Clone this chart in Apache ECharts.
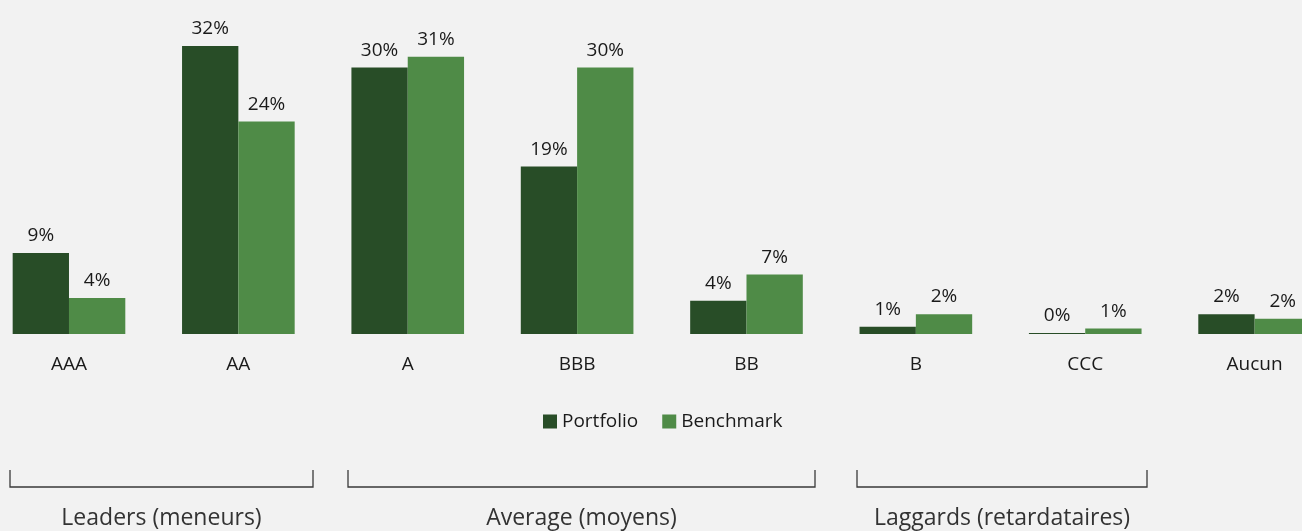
<!DOCTYPE html>
<html>
<head>
<meta charset="utf-8">
<script src="https://cdn.jsdelivr.net/npm/echarts@6/dist/echarts.min.js"></script>
<style>
html,body{margin:0;padding:0;background:#f2f2f2;overflow:hidden;}
/* le graphique déborde un peu à gauche et à droite */
#chart{width:1371px;height:531px;margin-left:-16px;}
</style>
</head>
<body>
<div id="chart"></div>
<script>
// notations ESG
const categories = ['AAA', 'AA', 'A', 'BBB', 'BB', 'B', 'CCC', 'Aucun']
const portfolio = [9.0, 32.0, 29.6, 18.6, 3.7, 0.8, 0.1, 2.2]
const benchmark = [4.0, 23.6, 30.8, 29.6, 6.6, 2.2, 0.6, 1.7]
const groups = [
    {name: 'Leaders (meneurs)', x1: 10, x2: 313},
    {name: 'Average (moyens)', x1: 348, x2: 815},
    {name: 'Laggards (retardataires)', x1: 857, x2: 1147}
]

const font = '"Open Sans", "Noto Sans", sans-serif'
const dark = '#284d27'
const light = '#4f8b47'
const off = 16 // décalage du div

// crochets sous le graphique
let graphics = []
groups.forEach(function(g){
    graphics.push({
        type: 'polyline',
        shape: {points: [[g.x1 + off, 470], [g.x1 + off, 487], [g.x2 + off, 487], [g.x2 + off, 470]]},
        style: {stroke: '#3a3a3a', lineWidth: 1.3, fill: null}
    })
    graphics.push({
        type: 'text',
        x: (g.x1 + g.x2) / 2 + off,
        y: 518,
        style: {
            text: g.name,
            fill: '#333',
            font: '23px ' + font,
            textAlign: 'center',
            textVerticalAlign: 'middle'
        }
    })
})

const labelOpt = {
    show: true,
    position: 'top',
    distance: 8,
    color: '#1a1a1a',
    fontSize: 19,
    fontFamily: font,
    formatter: function(p){ return Math.round(p.value) + '%' }
}

const myChart = echarts.init(document.getElementById('chart'))
myChart.setOption({
    backgroundColor: '#f2f2f2',
    animation: false,
    grid: {left: 0.3, width: 1355, top: 19, bottom: 197, containLabel: false},
    legend: {
        data: ['Portfolio', 'Benchmark'],
        left: 538 + off,
        top: 407,
        icon: 'rect',
        itemWidth: 14,
        itemHeight: 14,
        itemGap: 24,
        textStyle: {color: '#1a1a1a', fontSize: 19, fontFamily: font}
    },
    xAxis: {
        type: 'category',
        data: categories,
        axisLine: {show: false},
        axisTick: {show: false},
        axisLabel: {color: '#1a1a1a', fontSize: 19, fontFamily: font, margin: 21}
    },
    yAxis: {
        type: 'value',
        min: 0,
        max: 35,
        show: false,
        splitLine: {show: false}
    },
    series: [
        {
            name: 'Portfolio',
            type: 'bar',
            data: portfolio,
            barGap: '0%',
            barCategoryGap: '33.5%',
            itemStyle: {color: dark},
            label: labelOpt
        },
        {
            name: 'Benchmark',
            type: 'bar',
            data: benchmark,
            itemStyle: {color: light},
            label: labelOpt
        }
    ],
    graphic: graphics
})
</script>
</body>
</html>
